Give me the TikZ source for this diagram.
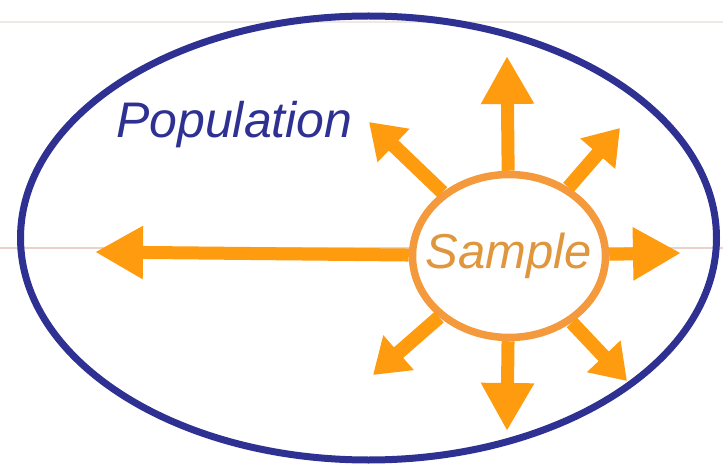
\documentclass[tikz,border=0pt]{standalone}
\usepackage{fontspec}
\setmainfont{Liberation Sans}
\usetikzlibrary{arrows.meta,shapes.geometric}
\definecolor{popblue}{HTML}{2E3192}
\definecolor{arrorange}{HTML}{FF9B0F}
\definecolor{ringorange}{HTML}{F59A3C}
\definecolor{samptext}{HTML}{E0963C}
\tikzset{%
  popring/.style  = {draw=popblue, line width=7pt},%
  sampring/.style = {shape=ellipse, draw=ringorange, line width=7.5pt,%
                     fill=white, inner sep=0pt,%
                     minimum width=193pt, minimum height=163pt},%
  samplabel/.style= {font=\fontsize{49}{53}\selectfont\itshape, text=samptext, inner sep=0pt},%
  poplabel/.style = {font=\fontsize{50}{54}\selectfont\itshape, text=popblue, inner sep=0pt},%
  spoke/.style    = {draw=arrorange, line width=13pt,%
                     -{Triangle[length=48pt,width=50pt]}},%
  diag/.style     = {draw=arrorange, line width=14pt,%
                     -{Triangle[length=34pt,width=44pt]}},%
  faint/.style    = {line width=1.5pt}%
}

\begin{document}
\begin{tikzpicture}[x=1pt,y=-1pt]
	\useasboundingbox (0,0) rectangle (723,465);
	% light page rules
	\draw[faint,color={rgb,255:red,238;green,233;blue,228}] (0,22) -- (723,22);
	\draw[faint,color={rgb,255:red,232;green,210;blue,202}] (0,248) -- (723,248);
	% population
	\draw[popring] (368.5,238) ellipse [x radius=348, y radius=222];
	\node[poplabel,anchor=base west] (pop) at (116,138) {Population};
	% sample and its spokes
	\node[sampring] (sample) at (509,256) {};
	\node[samplabel] (samp) at (sample.center) {Sample};
	\coordinate (n)  at (507,56);
	\coordinate (s)  at (507,431);
	\coordinate (e)  at (681,253);
	\coordinate (w)  at (95,252);
	\coordinate (nw) at (369,122);
	\coordinate (ne) at (620,128);
	\coordinate (sw) at (373,375);
	\coordinate (se) at (627,381);
	\draw[spoke] (sample) -- (n);
	\draw[spoke] (sample) -- (s);
	\draw[spoke] (sample) -- (e);
	\draw[spoke] (sample) -- (w);
	\draw[diag] (sample) -- (nw);
	\draw[diag] (sample) -- (ne);
	\draw[diag] (sample) -- (sw);
	\draw[diag] (sample) -- (se);
\end{tikzpicture}
\end{document}
